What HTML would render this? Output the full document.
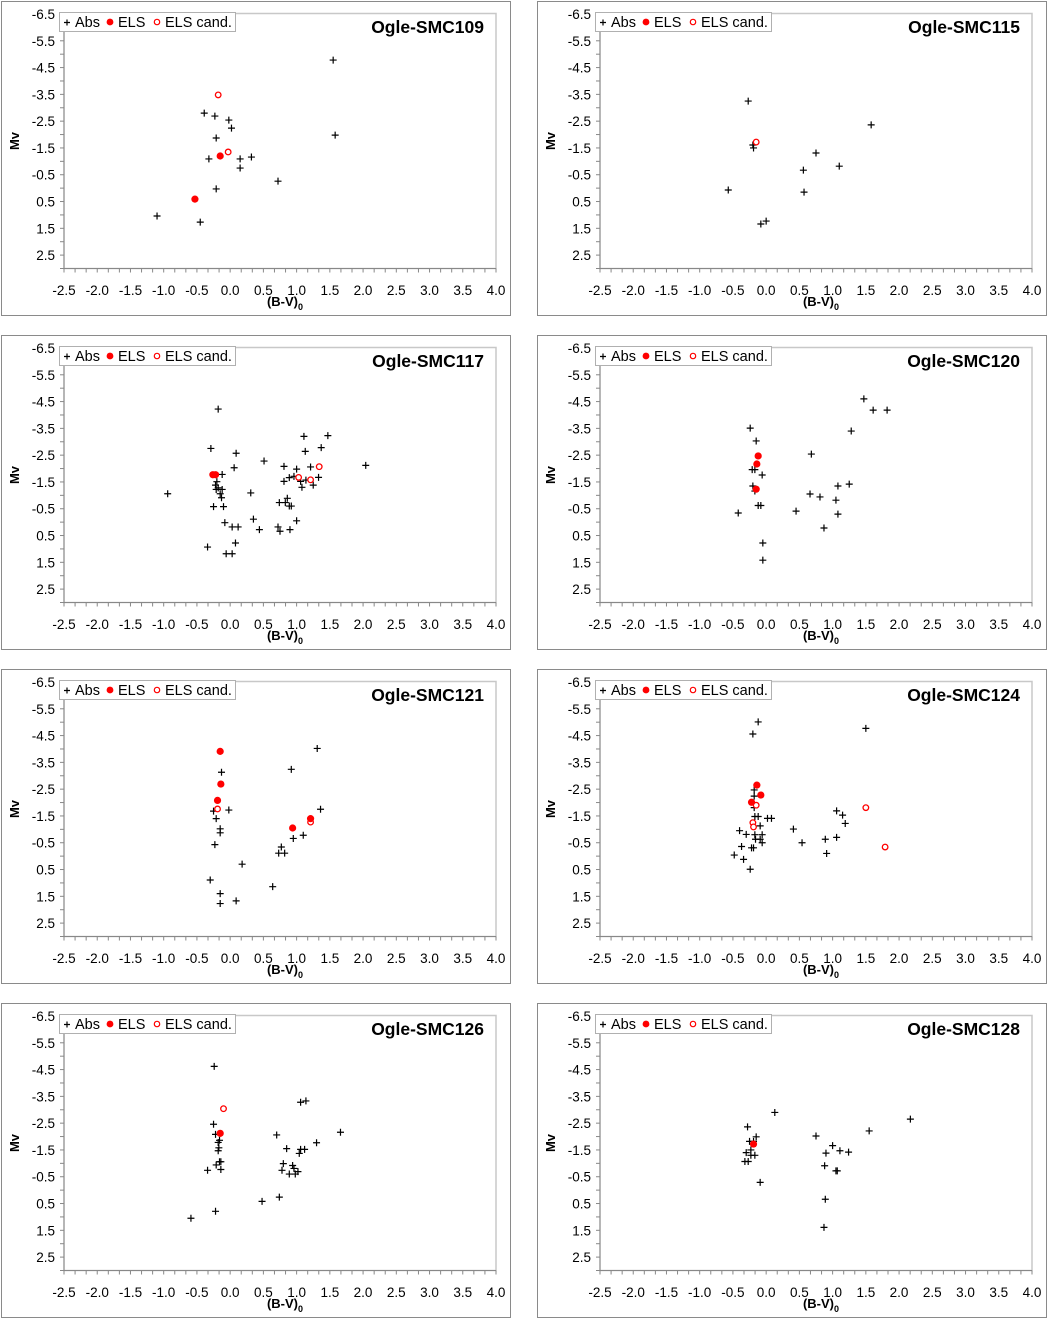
<!DOCTYPE html>
<html><head><meta charset="utf-8"><style>
body{margin:0;background:#fff;width:1048px;height:1318px;overflow:hidden}
svg text{font-family:"Liberation Sans",Arial,sans-serif}
</style></head><body>
<svg id="chart" width="1048" height="1318" xmlns="http://www.w3.org/2000/svg"></svg>
<script>
const panelNames=["Ogle-SMC109","Ogle-SMC115","Ogle-SMC117","Ogle-SMC120","Ogle-SMC121","Ogle-SMC124","Ogle-SMC126","Ogle-SMC128"];
const xTicks=[-2.5,-2.0,-1.5,-1.0,-0.5,0.0,0.5,1.0,1.5,2.0,2.5,3.0,3.5,4.0];
const yTicks=[-6.5,-5.5,-4.5,-3.5,-2.5,-1.5,-0.5,0.5,1.5,2.5];

const abs109X=[1.55,1.58,-0.39,-0.23,-0.02,0.02,-0.21,-0.32,0.15,0.32,0.15,0.72,-0.21,-1.10,-0.45];
const abs109Y=[-4.78,-1.98,-2.80,-2.69,-2.54,-2.24,-1.87,-1.09,-1.09,-1.16,-0.75,-0.26,0.03,1.04,1.27];
const els109X=[-0.15,-0.53];const els109Y=[-1.20,0.41];
const cand109X=[-0.18,-0.03];const cand109Y=[-3.48,-1.35];

const abs115X=[-0.27,-0.20,-0.19,1.58,0.75,0.56,1.10,-0.57,0.57,0.00,-0.08];
const abs115Y=[-3.25,-1.61,-1.50,-2.36,-1.31,-0.67,-0.82,0.07,0.15,1.23,1.34];
const els115X=[];const els115Y=[];
const cand115X=[-0.15];const cand115Y=[-1.72];

const abs117X=[-0.18,-0.29,0.09,0.51,0.06,-0.12,-0.20,-0.22,-0.18,-0.21,-0.12,-0.94,-0.15,-0.13,0.31,-0.25,-0.10,-0.08,0.35,0.03,0.12,0.44,0.08,-0.34,-0.06,0.03,1.11,1.47,1.37,1.13,2.04,0.81,1.00,1.21,0.89,0.96,0.81,1.06,1.14,1.33,1.25,1.08,0.86,0.74,0.83,0.89,0.92,1.00,0.72,0.75,0.90];
const abs117Y=[-4.22,-2.75,-2.57,-2.28,-2.03,-1.78,-1.51,-1.38,-1.28,-1.22,-1.22,-1.06,-1.06,-0.91,-1.09,-0.58,-0.58,0.02,-0.11,0.18,0.18,0.28,0.78,0.93,1.18,1.18,-3.20,-3.23,-2.78,-2.64,-2.12,-2.08,-1.98,-2.06,-1.66,-1.71,-1.52,-1.52,-1.57,-1.67,-1.38,-1.30,-0.89,-0.73,-0.73,-0.60,-0.60,-0.05,0.18,0.34,0.28];
const els117X=[-0.26,-0.22];const els117Y=[-1.77,-1.77];
const cand117X=[1.34,1.03,1.21];const cand117Y=[-2.07,-1.67,-1.58];

const abs120X=[1.47,1.61,1.82,-0.24,-0.15,1.28,0.68,-0.21,-0.17,-0.06,-0.20,-0.17,1.25,1.08,0.66,0.81,1.05,-0.12,-0.08,0.45,-0.42,1.08,0.87,-0.05,-0.05];
const abs120Y=[-4.60,-4.18,-4.18,-3.51,-3.03,-3.40,-2.54,-1.96,-1.96,-1.76,-1.35,-1.16,-1.42,-1.35,-1.05,-0.94,-0.82,-0.62,-0.62,-0.41,-0.34,-0.30,0.22,0.78,1.42];
const els120X=[-0.12,-0.14,-0.15];const els120Y=[-2.47,-2.17,-1.23];
const cand120X=[];const cand120Y=[];

const abs121X=[-0.13,1.31,0.92,1.36,-0.25,-0.02,-0.21,-0.15,-0.15,-0.23,0.18,-0.30,-0.15,-0.15,0.09,0.64,0.95,1.10,0.77,0.73,0.82];
const abs121Y=[-3.13,-4.02,-3.24,-1.75,-1.68,-1.72,-1.40,-1.02,-0.87,-0.43,0.30,0.89,1.40,1.77,1.67,1.14,-0.66,-0.78,-0.34,-0.11,-0.11];
const els121X=[-0.15,-0.14,-0.19,0.94,1.21];const els121Y=[-3.91,-2.69,-2.08,-1.05,-1.40];
const cand121X=[-0.19,1.21];const cand121Y=[-1.76,-1.27];

const abs124X=[-0.12,-0.20,1.50,-0.18,-0.18,-0.18,1.06,1.15,1.19,-0.12,-0.17,0.02,0.08,-0.09,-0.40,-0.30,-0.17,-0.06,0.41,-0.16,-0.09,-0.06,0.54,0.89,1.06,-0.37,-0.22,-0.19,0.91,-0.48,-0.34,-0.24];
const abs124Y=[-5.01,-4.56,-4.77,-2.47,-2.24,-1.81,-1.69,-1.53,-1.22,-1.48,-1.48,-1.41,-1.41,-1.13,-0.95,-0.81,-0.80,-0.80,-1.01,-0.63,-0.63,-0.50,-0.50,-0.63,-0.70,-0.36,-0.31,-0.31,-0.10,-0.04,0.12,0.49];
const els124X=[-0.14,-0.08,-0.22];const els124Y=[-2.65,-2.28,-2.01];
const cand124X=[-0.15,1.50,-0.20,-0.19,1.79];const cand124Y=[-1.90,-1.81,-1.25,-1.09,-0.34];

const abs126X=[-0.24,-0.25,-0.22,-0.16,-0.18,-0.17,-0.18,-0.16,-0.14,-0.21,-0.14,-0.34,-0.22,-0.59,1.06,1.14,1.66,0.70,1.30,0.85,1.06,1.12,1.04,0.80,0.94,0.96,0.78,1.02,0.89,0.98,0.74,0.48];
const abs126Y=[-4.62,-2.46,-2.08,-1.86,-1.78,-1.58,-1.47,-1.06,-1.06,-0.94,-0.77,-0.74,0.79,1.05,-3.28,-3.33,-2.16,-2.06,-1.77,-1.55,-1.52,-1.52,-1.37,-0.99,-0.92,-0.81,-0.74,-0.69,-0.60,-0.60,0.26,0.42];
const els126X=[-0.15];const els126Y=[-2.12];
const cand126X=[-0.10];const cand126Y=[-3.04];

const abs128X=[0.13,-0.28,-0.15,-0.25,-0.19,-0.23,-0.30,-0.23,-0.17,-0.32,-0.27,-0.09,0.75,1.55,2.17,1.00,0.90,1.11,1.24,0.88,1.05,1.07,0.89,0.87];
const abs128Y=[-2.90,-2.36,-1.99,-1.82,-1.82,-1.50,-1.40,-1.30,-1.30,-1.07,-1.07,-0.29,-2.02,-2.21,-2.65,-1.66,-1.38,-1.47,-1.42,-0.91,-0.72,-0.72,0.34,1.39];
const els128X=[-0.19];const els128Y=[-1.72];
const cand128X=[];const cand128Y=[];

const panels=[
 [abs109X,abs109Y,els109X,els109Y,cand109X,cand109Y],
 [abs115X,abs115Y,els115X,els115Y,cand115X,cand115Y],
 [abs117X,abs117Y,els117X,els117Y,cand117X,cand117Y],
 [abs120X,abs120Y,els120X,els120Y,cand120X,cand120Y],
 [abs121X,abs121Y,els121X,els121Y,cand121X,cand121Y],
 [abs124X,abs124Y,els124X,els124Y,cand124X,cand124Y],
 [abs126X,abs126Y,els126X,els126Y,cand126X,cand126Y],
 [abs128X,abs128Y,els128X,els128Y,cand128X,cand128Y]
];

const NS="http://www.w3.org/2000/svg";
const svg=document.getElementById('chart');
function mk(tag,attrs,parent){const e=document.createElementNS(NS,tag);for(const k in attrs)e.setAttribute(k,attrs[k]);parent.appendChild(e);return e;}
const PL=64,PR=496,PT=14,PB=268.5;
function sx(v){return PL+(v+2.5)*(PR-PL)/6.5;}
function sy(v){return PT+(v+6.5)*(PB-PT)/9.5;}
function fmt(v){return v.toFixed(1);}

panels.forEach((p,i)=>{
  const ox=(i%2)*536, oy=Math.floor(i/2)*334;
  const g=mk('g',{transform:`translate(${ox},${oy})`},svg);
  
  
  const fr=mk('rect',{x:1.5,y:1.5,width:509,height:314,fill:'#fff',stroke:'#8a8a8a','stroke-width':1},g);
  
  
  const pb=mk('rect',{x:PL,y:PT-0.5,width:PR-PL,height:PB-PT+0.5,fill:'none',stroke:'#c8c8c8','stroke-width':1.5},g);
  
  
  const ya=mk('line',{x1:PL,y1:PT,x2:PL,y2:PB,stroke:'#888','stroke-width':1},g);
  
  
  const xa=mk('line',{x1:PL,y1:PB,x2:PR,y2:PB,stroke:'#888','stroke-width':1},g);
  
  
  for(let k=0;k<=19;k++){const y=PT+k*(PB-PT)/19;mk('line',{x1:PL-4,y1:y,x2:PL,y2:y,stroke:'#888','stroke-width':1},g);}
  for(let k=0;k<=39;k++){const x=PL+k*(PR-PL)/39;mk('line',{x1:x,y1:PB,x2:x,y2:PB+4,stroke:'#888','stroke-width':1},g);}
  yTicks.forEach(v=>{const t=mk('text',{x:55,y:sy(v)+5,'text-anchor':'end','font-size':13.5,fill:'#000'},g);t.textContent=fmt(v);
    
    });
  xTicks.forEach(v=>{const t=mk('text',{x:sx(v),y:295,'text-anchor':'middle','font-size':13.5,fill:'#000'},g);t.textContent=fmt(v);
    
    });
  const xt=mk('text',{x:285,y:306,'text-anchor':'middle','font-size':13,'font-weight':'bold'},g);
  xt.innerHTML='(B-V)<tspan font-size="9" dy="4">0</tspan>';
  
  
  const yt=mk('text',{x:0,y:0,transform:'translate(19,141) rotate(-90)','text-anchor':'middle','font-size':13,'font-weight':'bold'},g);
  yt.textContent='Mv';
  
  
  const [ax,ay,ex,ey,cx,cy]=p;
  ax.forEach((v,j)=>{const x=sx(v),y=sy(ay[j]);
    const m=mk('path',{d:`M${x-3.5} ${y}H${x+3.5}M${x} ${y-3.5}V${y+3.5}`,stroke:'#000','stroke-width':1.2},g);
    
    });
  cx.forEach((v,j)=>{const m=mk('circle',{cx:sx(v),cy:sy(cy[j]),r:2.8,fill:'#fff',stroke:'#f00','stroke-width':1.3},g);
    
    });
  ex.forEach((v,j)=>{const m=mk('circle',{cx:sx(v),cy:sy(ey[j]),r:3.6,fill:'#f00'},g);
    
    });
  const lg=mk('g',{},g);
  
  
  mk('rect',{x:59.5,y:12.5,width:176,height:19,fill:'#fff',stroke:'#b0b0b0','stroke-width':1},lg);
  mk('path',{d:'M64 22.5H70M67 19.5V25.5',stroke:'#000','stroke-width':1.2},lg);
  let t=mk('text',{x:75,y:27,'font-size':14.5},lg);t.textContent='Abs';
  mk('circle',{cx:110,cy:22,r:3.4,fill:'#f00'},lg);
  t=mk('text',{x:118,y:27,'font-size':14.5},lg);t.textContent='ELS';
  mk('circle',{cx:157,cy:22,r:2.7,fill:'#fff',stroke:'#f00','stroke-width':1.2},lg);
  t=mk('text',{x:165,y:27,'font-size':14.5},lg);t.textContent='ELS cand.';
  const ti=mk('text',{x:484,y:33,'text-anchor':'end','font-size':17.5,'font-weight':'bold'},g);
  ti.textContent=panelNames[i];
  
  
});
</script>
</body></html>
